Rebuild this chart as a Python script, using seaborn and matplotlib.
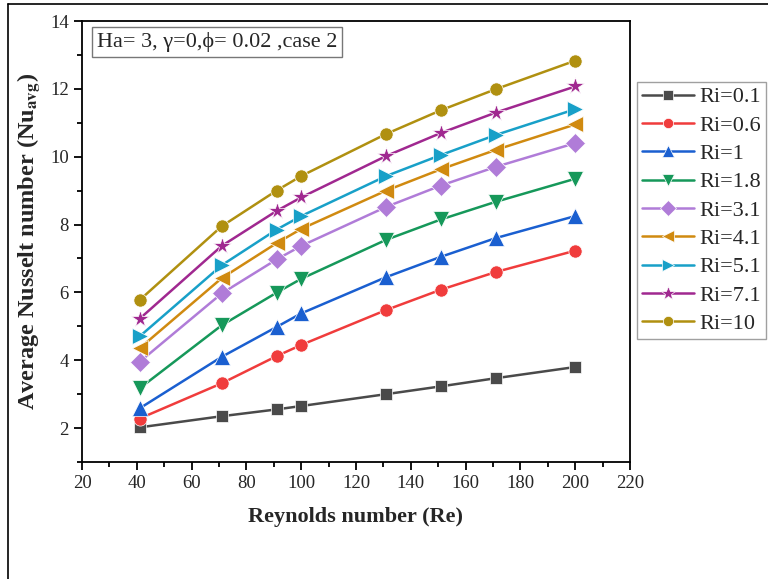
import matplotlib
matplotlib.use("Agg")
import matplotlib.pyplot as plt
from matplotlib.lines import Line2D
from matplotlib.ticker import MultipleLocator
import seaborn as sns
import pandas as pd

re_values = [41, 71, 91, 100, 131, 151, 171, 200]
ri_labels = ["Ri=0.1", "Ri=0.6", "Ri=1", "Ri=1.8", "Ri=3.1", "Ri=4.1", "Ri=5.1", "Ri=7.1", "Ri=10"]
nu_ri_0_1 = [2.02, 2.35, 2.55, 2.65, 3.00, 3.23, 3.47, 3.80]
nu_ri_0_6 = [2.28, 3.32, 4.12, 4.45, 5.48, 6.08, 6.60, 7.23]
nu_ri_1 = [2.58, 4.10, 4.98, 5.38, 6.45, 7.05, 7.60, 8.25]
nu_ri_1_8 = [3.17, 5.03, 5.99, 6.40, 7.55, 8.15, 8.67, 9.35]
nu_ri_3_1 = [3.95, 5.97, 6.97, 7.37, 8.52, 9.15, 9.70, 10.40]
nu_ri_4_1 = [4.35, 6.42, 7.45, 7.87, 9.00, 9.63, 10.20, 10.95]
nu_ri_5_1 = [4.70, 6.80, 7.85, 8.25, 9.43, 10.05, 10.64, 11.40]
nu_ri_7_1 = [5.22, 7.37, 8.40, 8.80, 10.02, 10.70, 11.30, 12.07]
nu_ri_10 = [5.77, 7.95, 9.00, 9.43, 10.67, 11.37, 11.99, 12.83]

series = [nu_ri_0_1, nu_ri_0_6, nu_ri_1, nu_ri_1_8, nu_ri_3_1,
          nu_ri_4_1, nu_ri_5_1, nu_ri_7_1, nu_ri_10]
colors = ["#4a4a4a", "#f03c3c", "#1a5fd0", "#16985a", "#b07cd8",
          "#d08a10", "#18a0c8", "#a02890", "#b09010"]
markers = ["s", "o", "^", "v", "D", "<", ">", "*", "o"]
msizes = [9, 9.5, 11, 11, 10, 11.5, 11.5, 13, 9.5]

rows = []
for lab, vals in zip(ri_labels, series):
    for x, y in zip(re_values, vals):
        rows.append({"Re": x, "Nu": y, "Ri": lab})
df = pd.DataFrame(rows)

sns.set_style("ticks")
plt.rcParams["font.family"] = ["Liberation Serif", "DejaVu Serif"]
plt.rcParams["mathtext.fontset"] = "stix"

fig = plt.figure(figsize=(7.68, 5.79), dpi=100)
ax = fig.add_axes([82/768, 1-462/579, (630-82)/768, (462-21)/579])

sns.lineplot(data=df, x="Re", y="Nu", hue="Ri", style="Ri",
             hue_order=ri_labels, style_order=ri_labels,
             palette=dict(zip(ri_labels, colors)),
             markers=dict(zip(ri_labels, markers)), dashes=False,
             markersize=9, linewidth=1.8, markeredgewidth=0.5,
             ax=ax)

data_lines = [ln for ln in ax.lines if len(ln.get_xdata()) == len(re_values)]
for ln, ms in zip(data_lines, msizes):
    ln.set_markersize(ms)

ax.set_xlim(20, 220)
ax.set_ylim(1, 14)
ax.xaxis.set_major_locator(MultipleLocator(20))
ax.xaxis.set_minor_locator(MultipleLocator(10))
ax.yaxis.set_major_locator(MultipleLocator(2))
ax.yaxis.set_minor_locator(MultipleLocator(1))
ax.tick_params(axis="both", which="major", direction="out", length=6, width=1.3, labelsize=13.5, color="black")
ax.tick_params(axis="both", which="minor", direction="out", length=3.5, width=1.3, color="black")
for sp in ax.spines.values():
    sp.set_linewidth(1.3)
    sp.set_color("black")

ax.set_xlabel("Reynolds number (Re)", fontsize=16, fontweight="bold", labelpad=11)
ax.set_ylabel(r"Average Nusselt number (Nu$_{\mathbf{avg}}$)", fontsize=17.5, fontweight="bold", labelpad=6)

ax.text(0.027, 0.975, "Ha= 3, \u03b3=0,\u03d5= 0.02 ,case 2", transform=ax.transAxes,
        fontsize=16, va="top", ha="left",
        bbox=dict(boxstyle="square,pad=0.22", facecolor="white", edgecolor="#777777", linewidth=1))

handles, labels = ax.get_legend_handles_labels()
for h, ms in zip(handles, msizes):
    h.set_markersize(ms * 0.78)
leg = ax.legend(handles, labels, loc="upper left", bbox_to_anchor=(1.0128, 0.8617),
                fontsize=16, frameon=True, fancybox=False, edgecolor="#888888",
                labelspacing=0.35, handlelength=2.35, handletextpad=0.25, borderpad=0.22,
                borderaxespad=0)
leg.get_frame().set_linewidth(1)

fig.add_artist(Line2D([8/768, 8/768], [0, 1-4/579], color="black", linewidth=1.2, transform=fig.transFigure))
fig.add_artist(Line2D([8/768, 1], [1-4/579, 1-4/579], color="black", linewidth=1.2, transform=fig.transFigure))

fig.savefig("out.png", dpi=100)
